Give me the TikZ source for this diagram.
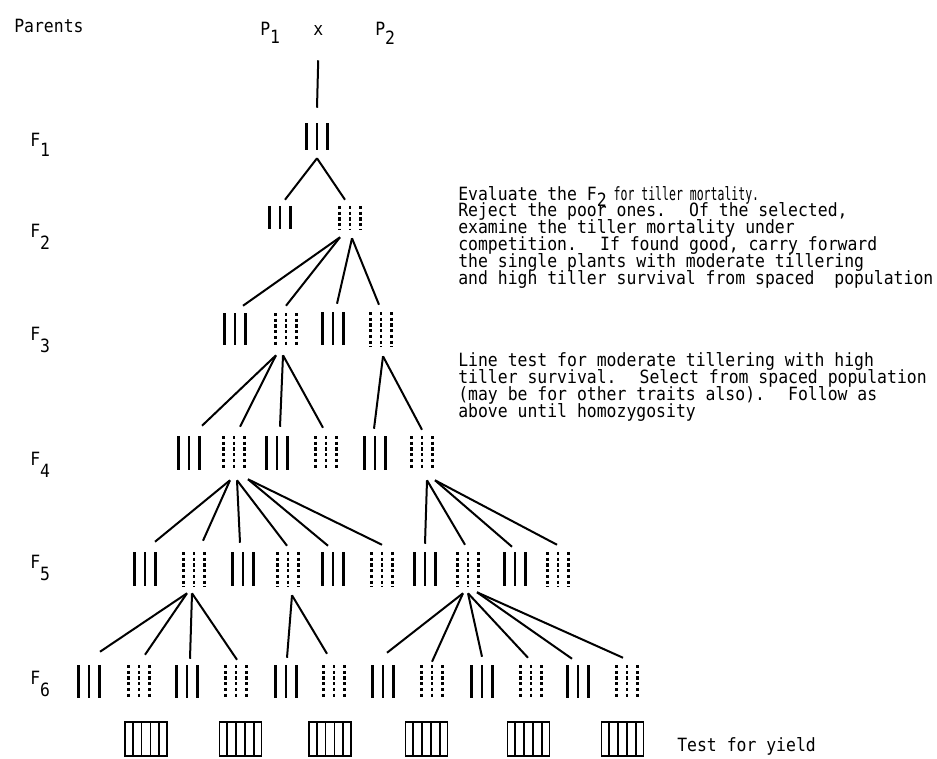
\documentclass[tikz,border=0pt]{standalone}
\usepackage{fontspec}
\newfontfamily\tw[FakeStretch=0.9]{DejaVu Sans Mono}
\usetikzlibrary{calc}
\tikzset{
 til/.style={line width=1.6pt},
 dtil/.style={line width=1.6pt, dash pattern=on 2.3pt off 2pt},
 con/.style={line width=1.5pt},
 grp/.style={rectangle, inner sep=0pt, minimum width=18pt},
 lab/.style={inner sep=0pt, anchor=base west, font=\tw\fontsize{13.7}{15}\selectfont},
 yb/.style={draw, line width=1.4pt, inner sep=0pt, minimum width=31.5pt, minimum height=25.5pt}
}
\newcommand\tgroup[5]{%
 \pgfmathsetmacro\grpH{(#5-#4)*0.75}
 \node[grp, minimum height=\grpH pt] (#2) at (#3,{(#4+#5)/2}) {};
 \foreach \dx in {-10.5,0,10.5} \draw[#1] ({#3+\dx},#4) -- ({#3+\dx},#5);
}
\newcommand\cn[6]{\draw[con] ($(#1.south)+(#2,#3)$) -- ($(#4.north)+(#5,#6)$);}
\newcommand\ybox[2]{%
 \node[yb] (#1) at (#2,739) {};
 \foreach \k in {1,...,4} \draw[line width=1.3pt] ($(#1.north west)!\k/5!(#1.north east)$) -- ($(#1.south west)!\k/5!(#1.south east)$);
}
\begin{document}
\begin{tikzpicture}[x=0.75pt,y=-0.75pt]
\useasboundingbox (0,0) rectangle (937,758);
% top labels
\node[lab] (parents) at (14,32) {Parents};
\node[lab] (p1) at (260,35) {P\raisebox{-6pt}{1}};
\node[lab] (cross) at (313,35) {x};
\node[lab] (p2) at (375,35) {P\raisebox{-7pt}{2}};
% generation labels
\node[lab] (F1) at (30,146) {F\raisebox{-8pt}{1}};
\node[lab] (F2) at (30,237) {F\raisebox{-9pt}{2}};
\node[lab] (F3) at (30,340) {F\raisebox{-9pt}{3}};
\node[lab] (F4) at (30,465) {F\raisebox{-9pt}{4}};
\node[lab] (F5) at (30,568) {F\raisebox{-9pt}{5}};
\node[lab] (F6) at (30,684) {F\raisebox{-9pt}{6}};
% F1
\tgroup{til}{g1}{317}{123}{150}
\draw[con] ($(cross.south)+(0,25)$) -- ($(g1.north)+(0,-15)$);
% F2
\tgroup{til}{a2}{280}{206}{229}
\tgroup{dtil}{b2}{350}{206}{229}
\cn{g1}{0}{8}{a2}{5}{-6}
\cn{g1}{0}{8}{b2}{-5}{-6}
% F3
\tgroup{til}{c1}{235}{313}{345}
\tgroup{dtil}{c2}{286}{313}{346}
\tgroup{til}{c3}{333}{312}{345}
\tgroup{dtil}{c4}{381}{312}{347}
\cn{b2}{-10}{8}{c1}{8}{-7}
\cn{b2}{-10}{8}{c2}{0}{-7}
\cn{b2}{2}{9}{c3}{4}{-8}
\cn{b2}{2}{9}{c4}{-2}{-7}
% F4
\tgroup{til}{d1}{189}{436}{470}
\tgroup{dtil}{d2}{234}{436}{470}
\tgroup{til}{d3}{277}{436}{470}
\tgroup{dtil}{d4}{326}{436}{470}
\tgroup{til}{d5}{375}{436}{470}
\tgroup{dtil}{d6}{422}{436}{470}
\cn{c2}{-10}{9}{d1}{13}{-10}
\cn{c2}{-10}{9}{d2}{6}{-9}
\cn{c2}{-3}{9}{d3}{3}{-9}
\cn{c2}{-3}{9}{d4}{-3}{-8}
\cn{c4}{2}{9}{d5}{-1}{-7}
\cn{c4}{2}{9}{d6}{0}{-6}
% F5
\tgroup{til}{e1}{145}{552}{586}
\tgroup{dtil}{e2}{194}{552}{587}
\tgroup{til}{e3}{243}{552}{586}
\tgroup{dtil}{e4}{288}{552}{587}
\tgroup{til}{e5}{333}{552}{586}
\tgroup{dtil}{e6}{382}{552}{587}
\tgroup{til}{e7}{425}{552}{586}
\tgroup{dtil}{e8}{468}{552}{587}
\tgroup{til}{e9}{515}{552}{586}
\tgroup{dtil}{e10}{558}{552}{587}
\cn{d2}{-4}{10}{e1}{10}{-10}
\cn{d2}{-4}{10}{e2}{9}{-11}
\cn{d2}{3}{10}{e3}{-3}{-9}
\cn{d2}{3}{10}{e4}{-1}{-6}
\cn{d2}{14}{9}{e5}{-5}{-6}
\cn{d2}{14}{9}{e6}{0}{-7}
\cn{d6}{5}{10}{e7}{0}{-8}
\cn{d6}{5}{10}{e8}{-3}{-7}
\cn{d6}{13}{10}{e9}{-3}{-5}
\cn{d6}{13}{10}{e10}{-1}{-7}
% F6
\tgroup{til}{f1}{89}{665}{698}
\tgroup{dtil}{f2}{139}{665}{698}
\tgroup{til}{f3}{187}{665}{698}
\tgroup{dtil}{f4}{236}{665}{698}
\tgroup{til}{f5}{286}{665}{698}
\tgroup{dtil}{f6}{334}{665}{698}
\tgroup{til}{f7}{383}{665}{698}
\tgroup{dtil}{f8}{432}{665}{698}
\tgroup{til}{f9}{482}{665}{698}
\tgroup{dtil}{f10}{531}{665}{698}
\tgroup{til}{f11}{578}{665}{698}
\tgroup{dtil}{f12}{627}{665}{698}
\cn{e2}{-7}{6}{f1}{11}{-13}
\cn{e2}{-7}{6}{f2}{6}{-10}
\cn{e2}{-2}{6}{f3}{3}{-6}
\cn{e2}{-2}{6}{f4}{1}{-5}
\cn{e4}{4}{8}{f5}{1}{-7}
\cn{e4}{4}{8}{f6}{-7}{-11}
\cn{e8}{-5}{6}{f7}{4}{-12}
\cn{e8}{-5}{6}{f8}{0}{-3}
\cn{e8}{0}{6}{f9}{0}{-8}
\cn{e8}{0}{6}{f10}{-3}{-7}
\cn{e8}{9}{5}{f11}{-6}{-6}
\cn{e8}{9}{5}{f12}{-4}{-7}
% yield plots
\ybox{y1}{146}
\ybox{y2}{240.5}
\ybox{y3}{330}
\ybox{y4}{426.5}
\ybox{y5}{528.5}
\ybox{y6}{622.5}
\node[lab] (tfy) at (677,751) {Test for yield};
% notes
\foreach \t [count=\i] in {%
 {Evaluate the F\raisebox{-5pt}{2}\scalebox{0.7}[1]{~for tiller mortality.}},
 {Reject the poor ones.~ Of the selected,},
 {examine the tiller mortality under},
 {competition.~ If found good, carry forward},
 {the single plants with moderate tillering},
 {and high tiller survival from spaced~ population}}
 \node[lab] (na\i) at (458,{200+16.9*(\i-1)}) {\t};
\foreach \t [count=\i] in {%
 {Line test for moderate tillering with high},
 {tiller survival.~ Select from spaced population},
 {(may be for other traits also).~ Follow as},
 {above until homozygosity}}
 \node[lab] (nb\i) at (458,{366+17*(\i-1)}) {\t};
\end{tikzpicture}
\end{document}
